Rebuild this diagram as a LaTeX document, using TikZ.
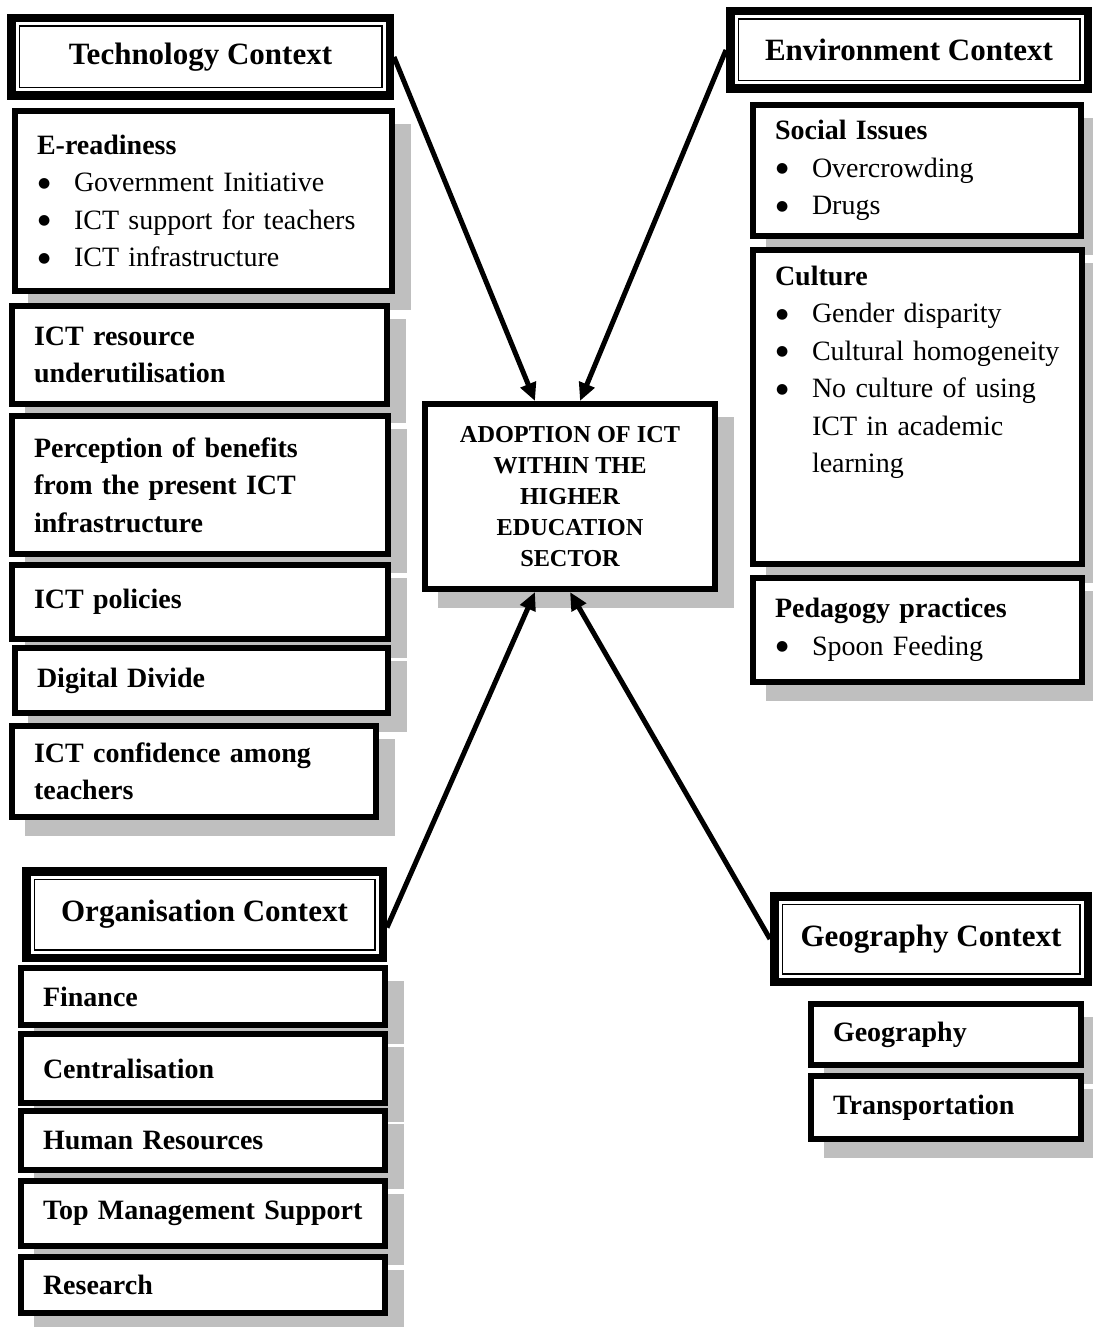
\documentclass[tikz,border=0pt]{standalone}
\usepackage{fontspec}
\setmainfont{Liberation Serif}
\newfontfamily\dotfont{DejaVu Sans}
\usetikzlibrary{arrows.meta,shadows}

\newcommand{\ctxfont}{\fontsize{31}{37}\selectfont\bfseries}
\newcommand{\itemfont}{\fontsize{28}{37.5}\selectfont}
\newcommand{\hubfont}{\fontsize{24.3}{31}\selectfont\bfseries}
\newcommand{\bul}{\makebox[37pt][l]{\hspace{1pt}\raisebox{4.5pt}{\dotfont\fontsize{14}{0}\selectfont ●}}}
\newcommand{\ereadiness}{%
\textbf{E-readiness}\\
\bul Government Initiative\\
\bul ICT support for teachers\\
\bul ICT infrastructure}
\newcommand{\socialissues}{%
\textbf{Social Issues}\\
\bul Overcrowding\\
\bul Drugs}
\newcommand{\culture}{%
\textbf{Culture}\\
\bul Gender disparity\\
\bul Cultural homogeneity\\
\bul No culture of using\\
\hspace*{37pt}ICT in academic\\
\hspace*{37pt}learning\\
\mbox{}\\
\mbox{}}
\newcommand{\pedagogy}{%
\textbf{Pedagogy practices}\\
\bul Spoon Feeding}

\tikzstyle{line} = [draw, -{Triangle[length=18pt, width=16pt]}, line width=5pt]
\tikzstyle{context} = [draw, line width=8.5pt, fill=white, anchor=north west, align=center, font=\ctxfont,
    path picture={\draw[line width=1.5pt] ([shift={(8pt,-8pt)}]path picture bounding box.north west) rectangle ([shift={(-8pt,8pt)}]path picture bounding box.south east);}]
\tikzstyle{factor} = [draw, line width=6pt, fill=white, anchor=north west, align=left, inner xsep=22pt, inner ysep=0pt, font=\itemfont,
    drop shadow={shadow xshift=16pt, shadow yshift=-16pt, fill=gray!50, draw=gray!50, opacity=1}]

\begin{document}
\begin{tikzpicture}[x=1pt, y=-1pt]
        \useasboundingbox (0,0) rectangle (1092,1327);

        % technology
        \node[context, minimum width=378.5pt, minimum height=77.5pt] (tech) at (7,14) {Technology Context};
        \node[factor, text width=333pt, minimum height=180pt] (ered) at (12,108) {\ereadiness};
        \node[factor, text width=331pt, minimum height=98pt] (underuse) at (9,303) {\textbf{ICT resource}\\ \textbf{underutilisation}};
        \node[factor, text width=332pt, minimum height=138pt] (benefit) at (9,413) {\textbf{Perception of benefits}\\ \textbf{from the present ICT}\\ \textbf{infrastructure}};
        \node[factor, text width=332pt, minimum height=74pt] (policy) at (9,562) {\textbf{ICT policies}};
        \node[factor, text width=329pt, minimum height=65pt] (divide) at (12,645) {\textbf{Digital Divide}};
        \node[factor, text width=320pt, minimum height=91pt] (confid) at (9,723) {\textbf{ICT confidence among}\\ \textbf{teachers}};

        % environment
        \node[context, minimum width=357.5pt, minimum height=77.5pt] (env) at (726,7) {Environment Context};
        \node[factor, text width=284pt, minimum height=131pt] (social) at (750,102) {\socialissues};
        \node[factor, text width=285pt, minimum height=314pt] (cult) at (750,247) {\culture};
        \node[factor, text width=285pt, minimum height=104pt] (pedag) at (750,575) {\pedagogy};

        % centre
        \node[factor, align=center, font=\hubfont, minimum width=290pt, minimum height=185pt] (hub) at (422,401) {ADOPTION OF ICT\\ WITHIN THE\\ HIGHER\\ EDUCATION\\ SECTOR};

        % organisation
        \node[context, minimum width=356.5pt, minimum height=86.5pt] (org) at (22,867) {Organisation Context};
        \node[factor, text width=320pt, minimum height=57pt] (finance) at (18,965) {\textbf{Finance}};
        \node[factor, text width=320pt, minimum height=69pt] (central) at (18,1031) {\textbf{Centralisation}};
        \node[factor, text width=320pt, minimum height=59pt] (human) at (18,1108) {\textbf{Human Resources}};
        \node[factor, text width=320pt, minimum height=65pt] (topmgmt) at (18,1178) {\textbf{Top Management Support}};
        \node[factor, text width=320pt, minimum height=56pt] (research) at (18,1254) {\textbf{Research}};

        % geography
        \node[context, minimum width=313.5pt, minimum height=85.5pt] (geo) at (770,892) {Geography Context};
        \node[factor, text width=226pt, minimum height=61pt] (geog) at (808,1001) {\textbf{Geography}};
        \node[factor, text width=226pt, minimum height=63pt] (transp) at (808,1073) {\textbf{Transportation}};

        \draw[line] (tech.east) -- ([xshift=-35pt]hub.north);
        \draw[line] (env.west) -- ([xshift=10pt]hub.north);
        \draw[line] ([yshift=-13pt]org.east) -- ([xshift=-35pt]hub.south);
        \draw[line] (geo.west) -- (hub.south);
    \end{tikzpicture}
\end{document}
